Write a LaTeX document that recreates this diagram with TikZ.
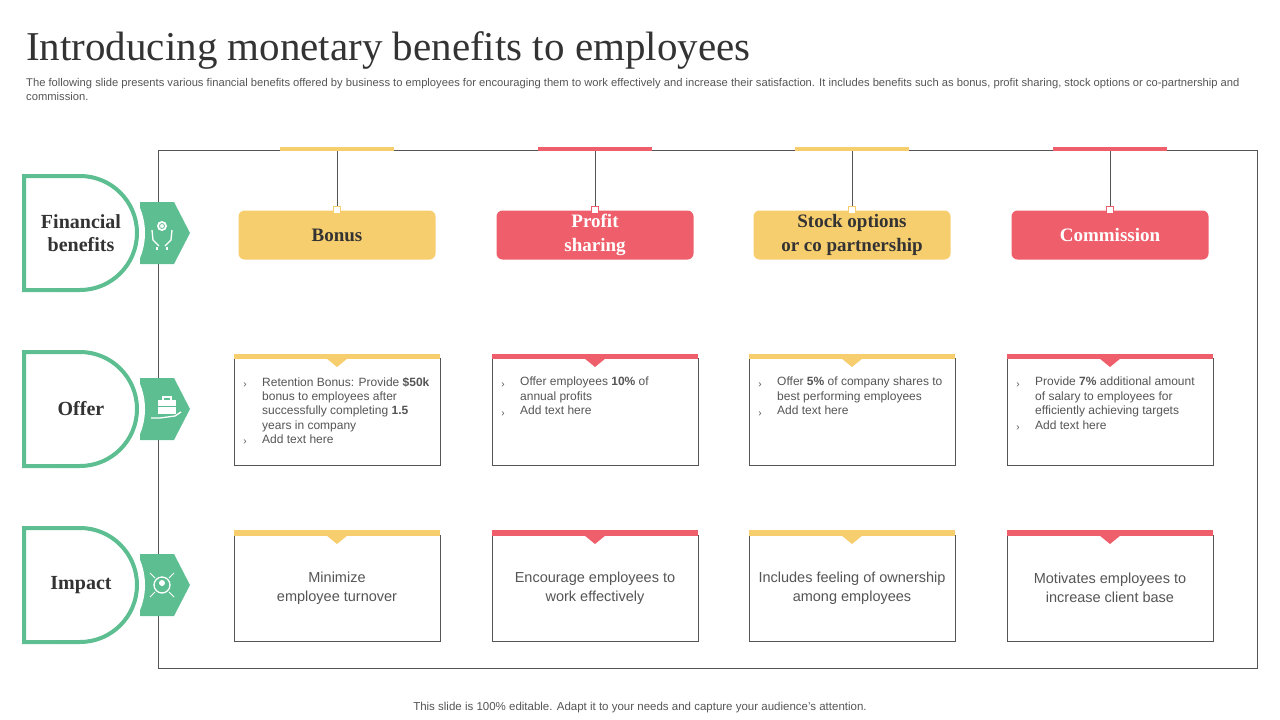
\documentclass[tikz,border=0pt]{standalone}
\usepackage{fontspec}
\setmainfont{Liberation Serif}
\setsansfont{Liberation Sans}
\definecolor{yel}{HTML}{F7CE6E}
\definecolor{redc}{HTML}{EF5F6B}
\definecolor{grn}{HTML}{5DBE91}
\definecolor{txt}{HTML}{333333}
\definecolor{gry}{HTML}{555555}
\definecolor{frm}{HTML}{555555}
\begin{document}
\begin{tikzpicture}[x=1pt,y=-1pt,
  hdr/.style={rounded corners=6pt,minimum width=197pt,minimum height=49pt,inner sep=0pt,align=center,font=\fontsize{19}{23.5}\selectfont\bfseries},
  sbox/.style={draw=frm,line width=0.8pt,fill=white,minimum width=206pt,inner sep=0pt},
  otext/.style={anchor=north west,text width=172pt,align=flush left,font=\sffamily\fontsize{12}{14.4}\selectfont,text=gry,inner sep=0pt},
  itext/.style={align=center,font=\sffamily\fontsize{14.5}{18.5}\selectfont,text=gry,inner sep=0pt},
  lab/.style={font=\fontsize{20}{23}\selectfont\bfseries,text=txt,align=center}]
\useasboundingbox (0,0) rectangle (1280,720);
\node[anchor=base west,inner sep=0pt,text=txt,font=\fontsize{41}{44}\selectfont] (title) at (26,60) {Introducing monetary benefits to employees};
\node[anchor=north west,inner sep=0pt,text=gry,text width=1222pt,align=flush left,font=\sffamily\fontsize{11.2}{14}\selectfont] (sub) at (26,78) {The following slide presents various financial benefits offered by business to employees for encouraging them to work effectively and increase their satisfaction. It includes benefits such as bonus, profit sharing, stock options or co-partnership and commission.};
\node[inner sep=0pt,text=gry,font=\sffamily\fontsize{11.5}{13}\selectfont] (foot) at (640,708) {This slide is 100\% editable. Adapt it to your needs and capture your audience's attention.};
\draw[frm,line width=0.8pt] (158,150) rectangle (1257,668);
\foreach \cy/\nm/\tx in {233/fin/{Financial\\benefits},409/off/{Offer},585/imp/{Impact}}{
  \fill[grn] (140,\cy-31) -- (174,\cy-31) -- (190,\cy) -- (174,\cy+31) -- (140,\cy+31) -- cycle;
  \fill[white] (80,\cy) circle (65);
  \draw[grn,line width=4pt] (80,\cy-57) -- (24,\cy-57) -- (24,\cy+57) -- (80,\cy+57) arc[start angle=90,end angle=-90,radius=57] -- cycle;
  \node[lab] (\nm) at (81,\cy) {\tx};
}
\begin{scope}[white,line width=1.3pt]
 \fill (162,226) circle (5); \draw[grn,line width=0.8pt] (162,226) circle (2.5);
 \draw (152,230) -- (153,240) -- (159,246) (172,230) -- (171,240) -- (165,246);
 \draw (157,247) -- (157,250) (167,247) -- (167,250);
 \fill (158,400) rectangle (176,414); \draw[grn,line width=0.8pt] (158,406) -- (176,406);
 \draw (163,400) -- (163,397) -- (171,397) -- (171,400);
 \draw (151,418) -- (160,418) -- (175,416) -- (181,412);
 \draw (162,585) circle (8); \fill (162,583) circle (3);
 \draw[line width=1pt] (150,573)--(155,578) (174,573)--(169,578) (150,597)--(155,592) (174,597)--(169,592);
\end{scope}
\foreach \i/\cx/\col/\tcol/\htx in {1/337/yel/txt/{Bonus},2/595/redc/white/{Profit\\sharing},3/852/yel/txt/{Stock options\\or co partnership},4/1110/redc/white/{Commission}}{
  \fill[\col] (\cx-57,147) rectangle (\cx+57,151);
  \node[hdr,fill=\col,text=\tcol] (h\i) at (\cx,235) {\htx};
  \coordinate (t\i) at (\cx,151);
  \draw[frm,line width=0.8pt] (t\i) -- (h\i.north);
  \node[draw=\col,fill=white,line width=1pt,minimum size=7pt,inner sep=0pt] (sq\i) at (h\i.north) {};
  \node[sbox,minimum height=107pt] (o\i) at (\cx,411.5) {};
  \fill[\col] (\cx-103,354) rectangle (\cx+103,359);
  \fill[\col] (\cx-11,358) -- (\cx+11,358) -- (\cx,367) -- cycle;
  \node[sbox,minimum height=106pt] (m\i) at (\cx,588) {};
  \fill[\col] (\cx-103,530) rectangle (\cx+103,536);
  \fill[\col] (\cx-11,535) -- (\cx+11,535) -- (\cx,544) -- cycle;
}
\foreach \i/\cx in {1/337,2/595,3/852,4/1110}{\coordinate (b\i) at (\cx-75,377);}
\node[otext] (ot1) at (b1) {Retention Bonus: Provide \textbf{\$50k} bonus to employees after successfully completing \textbf{1.5} years in company\\Add text here};
\node[otext] (ot2) at (b2) {Offer employees \textbf{10\%} of\\annual profits\\Add text here};
\node[otext] (ot3) at (b3) {Offer \textbf{5\%} of company shares to best performing employees\\Add text here};
\node[otext] (ot4) at (b4) {Provide \textbf{7\%} additional amount of salary to employees for efficiently achieving targets\\Add text here};
\begin{scope}[font=\sffamily\fontsize{10}{12}\selectfont,text=gry]
\node (bl1) at (245,385) {›}; \node at (245,442) {›};
\node (bl2) at (503,385) {›}; \node at (503,414) {›};
\node (bl3) at (760,385) {›}; \node at (760,414) {›};
\node (bl4) at (1018,385) {›}; \node at (1018,428) {›};
\end{scope}
\node[itext] (it1) at (337,588) {Minimize\\employee turnover};
\node[itext] (it2) at (595,588) {Encourage employees to\\work effectively};
\node[itext] (it3) at (852,588) {Includes feeling of ownership\\among employees};
\node[itext] (it4) at (1110,588) {Motivates employees to\\increase client base};
\end{tikzpicture}
\end{document}
